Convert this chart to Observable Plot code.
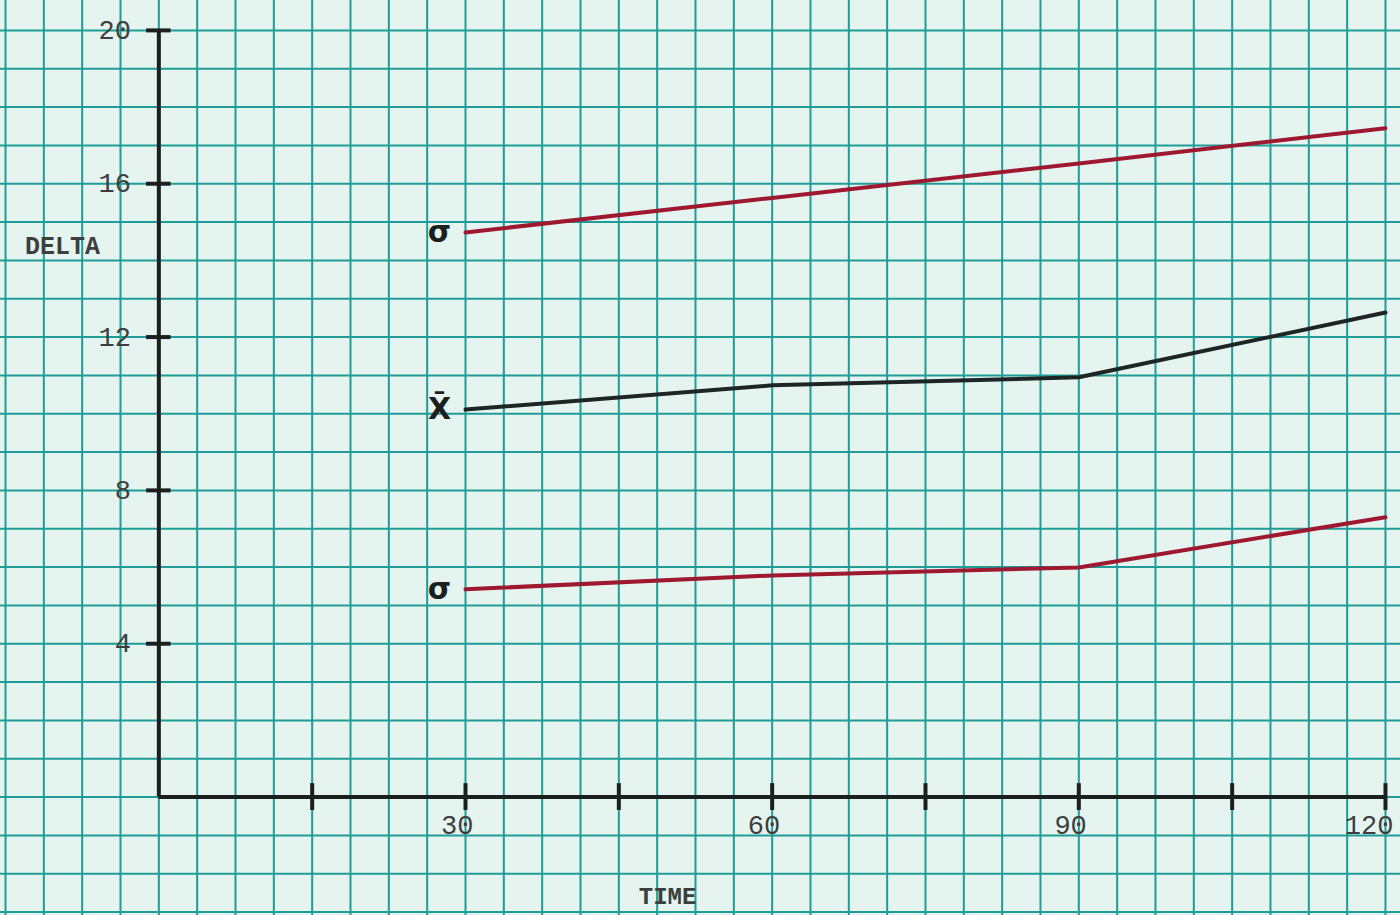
<!DOCTYPE html>
<html>
<head>
<meta charset="utf-8">
<script src="https://cdn.jsdelivr.net/npm/d3@7"></script>
<script src="https://cdn.jsdelivr.net/npm/@observablehq/plot@0.6"></script>
<style>
  html, body { margin: 0; padding: 0; background: #e6f4ef; }
  #chart svg { display: block; }
</style>
</head>
<body>
<div id="chart"></div>
<script>
// ---- data ----
const time = [30, 60, 90, 120];
const sigmaUpper = [14.73, 15.63, 16.53, 17.45];
const mean = [10.11, 10.74, 10.95, 12.64];
const sigmaLower = [5.42, 5.78, 5.99, 7.30];
const seriesNames = ["σ upper", "mean", "σ lower"];
const seriesLabels = ["σ", "X̄", "σ"];
const seriesColors = ["#9e1830", "#1d2624", "#9e1830"];
const yTicks = [4, 8, 12, 16, 20];
const xTicks = [15, 30, 45, 60, 75, 90, 105, 120];
const xTickLabels = [30, 60, 90, 120];
const yTitle = "DELTA";
const xTitle = "TIME";

// ---- build table ----
const seriesValues = [sigmaUpper, mean, sigmaLower];
const rows = [];
seriesValues.forEach((vals, i) => {
  vals.forEach((v, j) => rows.push({series: seriesNames[i], time: time[j], value: v}));
});
const labelRows = seriesValues.map((vals, i) => ({
  series: seriesNames[i], label: seriesLabels[i], time: time[0], value: vals[0]
}));

const font = "'Liberation Mono', 'DejaVu Sans Mono', monospace";
const gridColor = "#1f9c97";
const ink = "#1b1f1e";
const typeInk = "#3b403f";

const chart = Plot.plot({
  width: 1400,
  height: 915,
  margin: 0,
  x: {domain: [-15.49, 121.47], axis: null},
  y: {domain: [-3.09, 20.78], axis: null},
  color: {domain: seriesNames, range: seriesColors},
  style: {background: "#e6f4ef", fontFamily: font},
  marks: [
    // graph paper
    Plot.ruleX(d3.range(-15, 121.5, 3.75), {stroke: gridColor, strokeWidth: 2}),
    Plot.ruleY(d3.range(-3, 20.5, 1), {stroke: gridColor, strokeWidth: 2}),
    // axes
    Plot.ruleX([0], {y1: 0, y2: 20, stroke: ink, strokeWidth: 4}),
    Plot.ruleY([0], {x1: 0, x2: 120, stroke: ink, strokeWidth: 4}),
    Plot.ruleY(yTicks, {x1: -1.2, x2: 1.2, stroke: ink, strokeWidth: 4}),
    Plot.ruleX(xTicks, {y1: -0.35, y2: 0.35, stroke: ink, strokeWidth: 4}),
    // tick labels
    Plot.text(yTicks, {x: 0, y: d => d, text: d => String(d), dx: -28, textAnchor: "end",
      fontSize: 27, fill: typeInk}),
    Plot.text(xTickLabels, {x: d => d, y: 0, text: d => String(d), dx: 8, dy: 28,
      textAnchor: "end", fontSize: 27, fill: typeInk}),
    // axis titles
    Plot.text([yTitle], {x: -9.42, y: 14.37, text: d => d, fontSize: 25, fontWeight: "bold", fill: typeInk}),
    Plot.text([xTitle], {x: 49.77, y: -2.58, text: d => d, fontSize: 24, fontWeight: "bold", fill: typeInk}),
    // series
    Plot.line(rows, {x: "time", y: "value", z: "series", stroke: "series", strokeWidth: 4}),
    Plot.text(labelRows, {x: "time", y: "value", text: "label", dx: -26, dy: 0,
      fontSize: 30, fontWeight: "bold", fill: ink, fontFamily: "'DejaVu Sans', sans-serif"})
  ]
});
document.getElementById("chart").appendChild(chart);
</script>
</body>
</html>
